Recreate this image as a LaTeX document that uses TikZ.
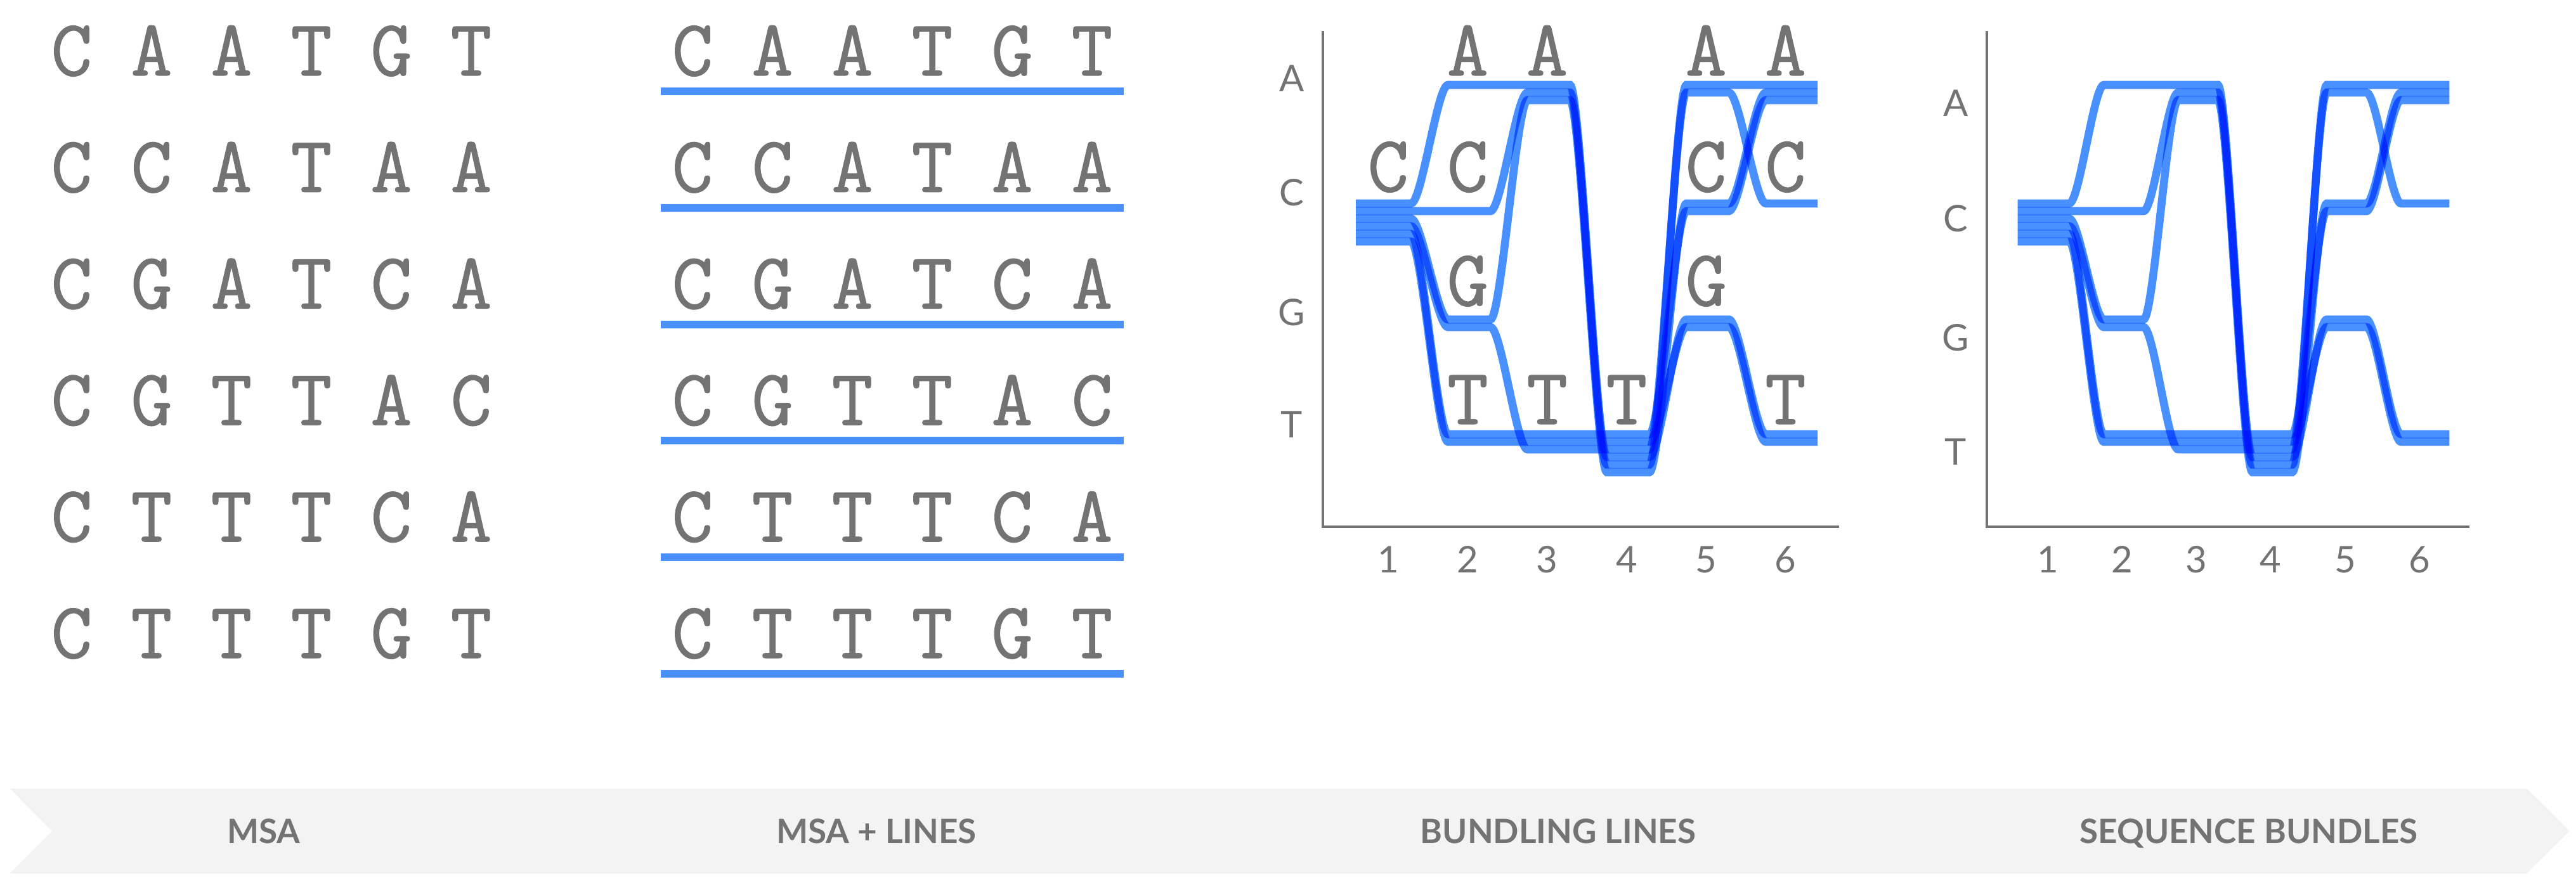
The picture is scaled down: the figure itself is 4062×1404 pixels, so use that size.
\documentclass[tikz,border=0pt]{standalone}
\usepackage{fontspec}
\newfontfamily\lato{Lato}
\newfontfamily\seqf[FakeBold=1.0]{Latin Modern Mono}
\definecolor{txtgray}{RGB}{115,115,115}
\definecolor{lineblue}{RGB}{72,143,255}
\definecolor{bannergray}{RGB}{243,243,243}
\tikzset{
  seqletter/.style={inner sep=0pt, anchor=base, text=txtgray, font=\seqf\fontsize{126}{126}\selectfont},
  axlabel/.style={inner sep=0pt, anchor=base, text=txtgray, font=\lato\fontsize{58}{58}\selectfont},
  bannerlabel/.style={inner sep=0pt, anchor=base, text=txtgray, font=\lato\bfseries\fontsize{53}{53}\selectfont},
  axisline/.style={draw=txtgray, line width=4pt},
  msaline/.style={draw=lineblue, line width=12pt},
  seqln/.style={draw=lineblue, line width=12.6pt, blend mode=multiply},
}
% column centres of the bundle panels (panel 3 coordinates)
\def\xs{2138}\def\xe{2866}
\def\ci{2189}\def\cii{2314.3}\def\ciii{2439.6}\def\civ{2564.9}\def\cv{2690.2}\def\cvi{2815.5}
\newcommand\bundleline[6]{%
  \draw[seqln] (\xs,#1) -- ({\ci+36},#1)
   .. controls ({\ci+53},#1) and ({\cii-48},#2) .. ({\cii-31},#2) -- ({\cii+36},#2)
   .. controls ({\cii+53},#2) and ({\ciii-48},#3) .. ({\ciii-31},#3) -- ({\ciii+36},#3)
   .. controls ({\ciii+53},#3) and ({\civ-48},#4) .. ({\civ-31},#4) -- ({\civ+36},#4)
   .. controls ({\civ+53},#4) and ({\cv-48},#5) .. ({\cv-31},#5) -- ({\cv+36},#5)
   .. controls ({\cv+53},#5) and ({\cvi-48},#6) .. ({\cvi-31},#6) -- (\xe,#6);}
\newcommand\allbundles{%
  \bundleline{321}{134}{134}{721}{504}{685}
  \bundleline{333}{333}{146}{733}{134}{134}
  \bundleline{345}{504}{158}{745}{321}{146}
  \bundleline{357}{516}{709}{709}{146}{321}
  \bundleline{369}{685}{685}{685}{333}{158}
  \bundleline{381}{697}{697}{697}{516}{697}}
\begin{document}
\begin{tikzpicture}[x=1pt,y=-1pt]
\path[use as bounding box] (0,0) rectangle (4062,1404);

% ---------- Panel 1: MSA ----------
\foreach \rowtxt [count=\r from 0] in {{C,A,A,T,G,T},{C,C,A,T,A,A},{C,G,A,T,C,A},{C,G,T,T,A,C},{C,T,T,T,C,A},{C,T,T,T,G,T}}{
  \foreach \ch [count=\c from 0] in \rowtxt {
    \node[seqletter] (m\r-\c) at ({113+126*\c},{119+183.8*\r}) {\ch};
  }
}

% ---------- Panel 2: MSA + lines ----------
\foreach \rowtxt [count=\r from 0] in {{C,A,A,T,G,T},{C,C,A,T,A,A},{C,G,A,T,C,A},{C,G,T,T,A,C},{C,T,T,T,C,A},{C,T,T,T,G,T}}{
  \foreach \ch [count=\c from 0] in \rowtxt {
    \node[seqletter] (l\r-\c) at ({1092+126*\c},{119+183.8*\r}) {\ch};
  }
  \coordinate (ls\r) at (1042,{144+183.8*\r});
  \coordinate (le\r) at (1772,{144+183.8*\r});
  \draw[msaline] (ls\r) -- (le\r);
}

% ---------- Panel 3: bundling lines ----------
\coordinate (p3top) at (2086,49);
\coordinate (p3org) at (2086,831);
\coordinate (p3end) at (2900,831);
\draw[axisline] (p3top) -- (p3org) -- (p3end);
\allbundles
\foreach \lab/\yy in {A/145,C/325,G/513,T/690}{
  \node[axlabel] (p3y\lab) at (2037,\yy) {\lab};
}
\foreach \n [count=\i from 0] in {1,...,6}{
  \node[axlabel] (p3x\n) at ({2189+125.3*\i},903) {\n};
}
\node[seqletter] (b3c1) at (\ci,302) {C};
\foreach \cc in {\cii,\ciii,\cv,\cvi}{\node[seqletter] at (\cc,119) {A};}
\foreach \cc in {\cii,\cv,\cvi}{\node[seqletter] at (\cc,302) {C};}
\foreach \cc in {\cii,\cv}{\node[seqletter] at (\cc,482) {G};}
\foreach \cc in {\cii,\ciii,\civ,\cvi}{\node[seqletter] at (\cc,669) {T};}

% ---------- Panel 4: sequence bundles ----------
\coordinate (p4top) at (3133,49);
\coordinate (p4org) at (3133,831);
\coordinate (p4end) at (3894,831);
\draw[axisline] (p4top) -- (p4org) -- (p4end);
\begin{scope}[shift={(3133,0)}, xscale=0.935, shift={(-2086,0)}]
  \allbundles
\end{scope}
\foreach \lab/\yy in {A/184,C/366,G/553,T/733}{
  \node[axlabel] (p4y\lab) at (3084,\yy) {\lab};
}
\foreach \n [count=\i from 0] in {1,...,6}{
  \node[axlabel] (p4x\n) at ({3229.3+117.15*\i},903) {\n};
}

% ---------- Banner ----------
\fill[bannergray] (16,1244) -- (3984,1244) -- (4052,1311) -- (3984,1378) -- (16,1378) -- (82,1311) -- cycle;
\node[bannerlabel] (t1) at (416,1330) {MSA};
\node[bannerlabel] (t2) at (1382,1330) {MSA + LINES};
\node[bannerlabel] (t3) at (2457,1330) {BUNDLING LINES};
\node[bannerlabel] (t4) at (3546,1330) {SEQUENCE BUNDLES};
\end{tikzpicture}
\end{document}
